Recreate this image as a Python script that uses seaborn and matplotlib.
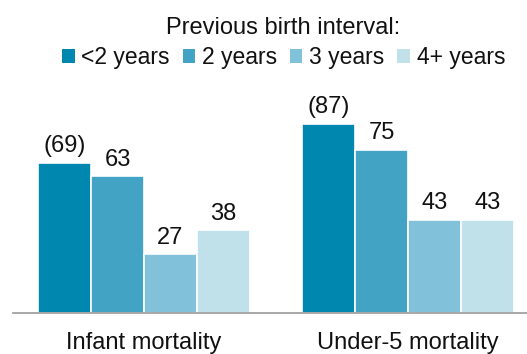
import matplotlib
matplotlib.use("Agg")
import matplotlib.pyplot as plt
import seaborn as sns
import pandas as pd
from matplotlib.patches import Patch

categories = ["Infant mortality", "Under-5 mortality"]
intervals = ["<2 years", "2 years", "3 years", "4+ years"]
infant = [69, 63, 27, 38]
under5 = [87, 75, 43, 43]
infant_labels = ["(69)", "63", "27", "38"]
under5_labels = ["(87)", "75", "43", "43"]
colors = ["#0087b0", "#43a3c5", "#81c1d9", "#c0e0ea"]

df = pd.DataFrame({
    "category": [categories[0]] * 4 + [categories[1]] * 4,
    "interval": intervals * 2,
    "rate": infant + under5,
    "label": infant_labels + under5_labels,
})

sns.set_theme(style="white")
plt.rcParams["font.family"] = ["Liberation Sans", "DejaVu Sans"]

fig = plt.figure(figsize=(5.27, 3.54), dpi=100)
ax = fig.add_axes([13 / 527, 41 / 354, 514 / 527, 213 / 354])

sns.barplot(data=df, x="category", y="rate", hue="interval",
            hue_order=intervals, palette=colors, width=0.8,
            edgecolor="white", linewidth=1.2, saturation=1,
            legend=False, ax=ax)

ax.set_xlim(-0.496, 1.451)
ax.set_ylim(0, 98)

for container, interval in zip(ax.containers, intervals):
    labs = df.loc[df["interval"] == interval, "label"].tolist()
    ax.bar_label(container, labels=labs, padding=4, fontsize=17, color="#111111")

ax.set_xlabel("")
ax.set_ylabel("")
ax.set_yticks([])
ax.tick_params(axis="x", length=0, labelsize=17, pad=13.5, colors="#111111")
for side in ["top", "right", "left"]:
    ax.spines[side].set_visible(False)
ax.spines["bottom"].set_color("#999999")
ax.spines["bottom"].set_linewidth(1.2)

handles = [Patch(facecolor=c, edgecolor="none") for c in colors]
leg = fig.legend(handles, intervals, ncol=4, loc="upper center",
                 bbox_to_anchor=(0.538, 1.0), frameon=False, fontsize=16.5,
                 title="Previous birth interval:", title_fontsize=17,
                 handlelength=0.55, handleheight=0.55, handletextpad=0.3,
                 columnspacing=0.55, borderaxespad=0.35, labelspacing=0.3)
leg.get_title().set_color("#111111")
for t in leg.get_texts():
    t.set_color("#111111")

fig.savefig("out.png", dpi=100)
